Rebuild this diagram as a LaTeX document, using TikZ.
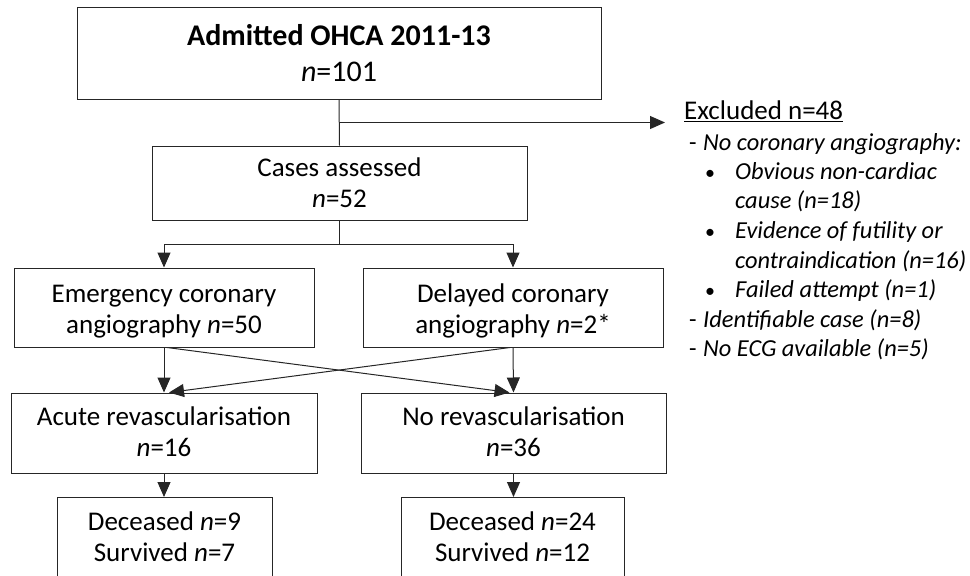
\documentclass[tikz,border=0pt]{standalone}
\usepackage{fontspec}
\setmainfont{Carlito}
\usetikzlibrary{arrows.meta}
\begin{document}
\begin{tikzpicture}[x=1pt,y=-1pt,
  box/.style={draw=black!85,line width=1pt,rectangle,inner sep=0pt},
  txt/.style={anchor=base,inner sep=0pt,font=\fontsize{27}{31}\selectfont},
  big/.style={anchor=base,inner sep=0pt,font=\fontsize{30}{35}\selectfont},
  ex/.style={anchor=base west,inner sep=0pt,font=\fontsize{24.4}{29.5}\selectfont},
  bul/.style={anchor=base west,inner sep=0pt,font=\fontsize{20}{29.5}\selectfont},
  arr/.style={draw=black!85,line width=1pt,-{Triangle[length=15pt,width=13pt]}},
  ln/.style={draw=black!85,line width=1pt}]
\useasboundingbox (0,0) rectangle (970,576);
\clip (0,0) rectangle (970,576);
% boxes
\node[box,minimum width=524pt,minimum height=92pt] (adm) at (339,53) {};
\node[box,minimum width=375pt,minimum height=74pt] (cases) at (339.5,183) {};
\node[box,minimum width=300pt,minimum height=79pt] (emerg) at (164,307.5) {};
\node[box,minimum width=300pt,minimum height=79pt] (delay) at (513,307.5) {};
\node[box,minimum width=306pt,minimum height=80pt] (acute) at (164,433) {};
\node[box,minimum width=305pt,minimum height=80pt] (norev) at (513.5,433) {};
\node[box,minimum width=215pt,minimum height=100pt,anchor=north] (dec1) at (164.5,497) {};
\node[box,minimum width=223pt,minimum height=100pt,anchor=north] (dec2) at (512.5,497) {};
% box texts
\node[big] (adm1) at (339,45.7) {\textbf{Admitted OHCA 2011-13}};
\node[big] (adm2) at (339,81) {\textit{n}=101};
\node[txt] (cas1) at (339.5,176) {Cases assessed};
\node[txt] (cas2) at (339.5,207) {\textit{n}=52};
\node[txt] (em1) at (164,302.7) {Emergency coronary};
\node[txt] (em2) at (164,333) {angiography \textit{n}=50};
\node[txt] (de1) at (513,302.7) {Delayed coronary};
\node[txt] (de2) at (513,333) {angiography \textit{n}=2*};
\node[txt] (ac1) at (164,425) {Acute revascularisation};
\node[txt] (ac2) at (164,456.7) {\textit{n}=16};
\node[txt] (no1) at (513.5,425) {No revascularisation};
\node[txt] (no2) at (513.5,456.7) {\textit{n}=36};
\node[txt] (d11) at (164.5,530) {Deceased \textit{n}=9};
\node[txt] (d12) at (164.5,561.7) {Survived \textit{n}=7};
\node[txt] (d21) at (512.5,530) {Deceased \textit{n}=24};
\node[txt] (d22) at (512.5,561.7) {Survived \textit{n}=12};
% connectors
\draw[ln] (adm.south) -- (cases.north);
\path (adm.south) -- (cases.north) coordinate[midway] (mid);
\coordinate (excltip) at (665,123);
\draw[arr] (mid) -- (mid -| excltip);
\draw[arr] (cases.south) -- ++(0,24) -| (emerg.north);
\draw[arr] (cases.south) -- ++(0,24) -| (delay.north);
\draw[arr] (emerg.south) -- (acute.north);
\draw[arr] (delay.south) -- (norev.north);
\draw[arr] ([xshift=3pt]emerg.south) -- ([xshift=-4pt]norev.north);
\draw[arr] ([xshift=-3pt]delay.south) -- ([xshift=5pt]acute.north);
\draw[arr] (acute.south) -- (acute.south |- dec1.north);
\draw[arr] (norev.south) -- (norev.south |- dec2.north);
% exclusion list
\node[ex,font=\fontsize{27}{31}\selectfont] (e0) at (684,119.3) {\underline{Excluded n=48}};
\node[ex] (e1d) at (689,150) {-};
\node[ex] (e1) at (703,150) {\textit{No coronary angiography:}};
\node[bul] (e2b) at (705,179) {•};
\node[ex] (e2) at (735,179) {\textit{Obvious non-cardiac}};
\node[ex] (e3) at (735,208) {\textit{cause (n=18)}};
\node[bul] (e4b) at (705,238) {•};
\node[ex] (e4) at (735,238) {\textit{Evidence of futility or}};
\node[ex] (e5) at (735,268) {\textit{contraindication (n=16)}};
\node[bul] (e6b) at (705,297) {•};
\node[ex] (e6) at (735,297) {\textit{Failed attempt (n=1)}};
\node[ex] (e7d) at (689,327) {-};
\node[ex] (e7) at (703,327) {\textit{Identifiable case (n=8)}};
\node[ex] (e8d) at (689,356) {-};
\node[ex] (e8) at (703,356) {\textit{No ECG available (n=5)}};
\end{tikzpicture}
\end{document}
